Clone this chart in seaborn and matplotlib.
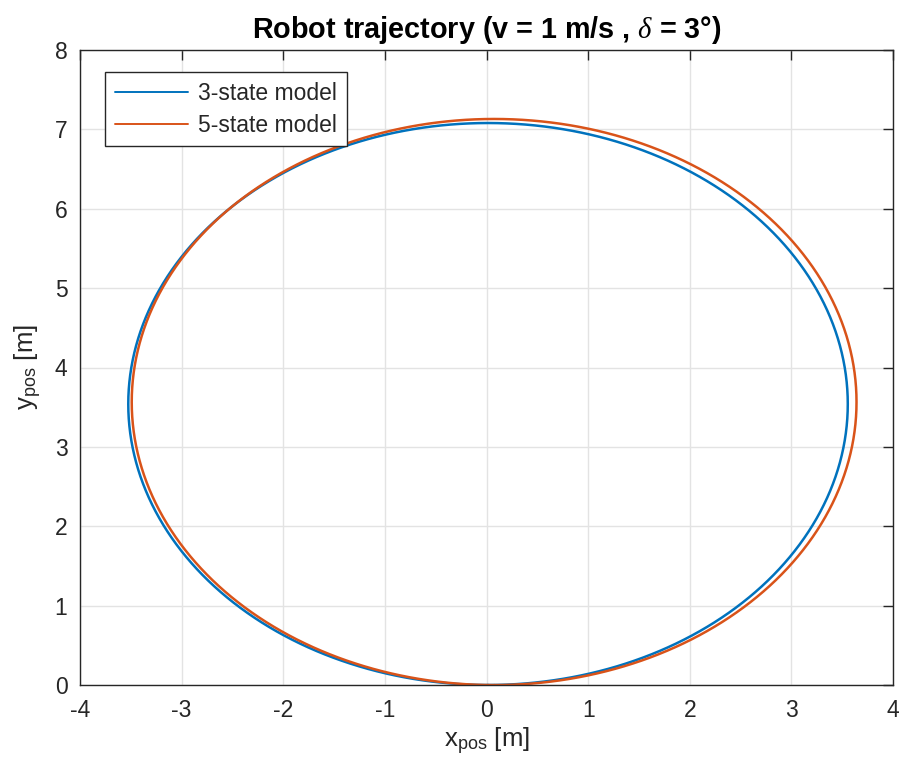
import numpy as np
import pandas as pd
import matplotlib
matplotlib.use("Agg")
import matplotlib.pyplot as plt
import seaborn as sns

# Circular trajectories of the robot for the two vehicle models
models = ["3-state model", "5-state model"]
center_x = [0.015, 0.075]      # m
center_y = [3.540, 3.565]      # m
turn_radius = [3.540, 3.566]   # m
colors = ["#0072BD", "#D95319"]

x_ticks = [-4, -3, -2, -1, 0, 1, 2, 3, 4]
y_ticks = [0, 1, 2, 3, 4, 5, 6, 7, 8]

# Sample each circle along heading angle, starting at the bottom (origin)
heading = np.linspace(0, 2 * np.pi, 721)
frames = []
for name, cx, cy, r in zip(models, center_x, center_y, turn_radius):
    frames.append(pd.DataFrame({
        "x": cx + r * np.sin(heading),
        "y": cy - r * np.cos(heading),
        "model": name,
    }))
df = pd.concat(frames, ignore_index=True)

sns.set_theme(style="white")
plt.rcParams["font.family"] = ["Liberation Sans", "DejaVu Sans"]
plt.rcParams["mathtext.fontset"] = "custom"
plt.rcParams["mathtext.rm"] = "Liberation Sans"
plt.rcParams["mathtext.it"] = "Liberation Serif:italic"

fig = plt.figure(figsize=(9, 7.75), dpi=100)
ax = fig.add_axes([80 / 900, 90 / 775, 813 / 900, 635 / 775])

sns.lineplot(data=df, x="x", y="y", hue="model", palette=colors,
             sort=False, estimator=None, linewidth=1.8, ax=ax, legend=False)

ax.set_xlim(-4, 4)
ax.set_ylim(0, 8)
ax.set_xticks(x_ticks)
ax.set_yticks(y_ticks)
ax.set_xticklabels([str(v) for v in x_ticks])
ax.set_yticklabels([str(v) for v in y_ticks])

ax.grid(True, color="#e3e3e3", linewidth=1.0)
ax.set_axisbelow(True)
for sp in ax.spines.values():
    sp.set_color("#262626")
    sp.set_linewidth(1.0)
    sp.set_visible(True)
ax.tick_params(direction="in", length=7, width=1.0, color="#262626",
               top=True, right=True, labelsize=16.5, labelcolor="#262626")
ax.tick_params(axis="x", pad=10)
ax.tick_params(axis="y", pad=9)

ax.set_xlabel(r"x$_{\mathrm{pos}}$ [m]", fontsize=18.5, color="#262626", labelpad=3)
ax.set_ylabel(r"y$_{\mathrm{pos}}$ [m]", fontsize=18.5, color="#262626", labelpad=8)
ax.set_title(r"Robot trajectory (v = 1 m/s , $\delta$ = 3°)", fontsize=20.7,
             fontweight="bold", color="black", pad=9)

handles = [plt.Line2D([], [], color=c, linewidth=1.4) for c in colors]
leg = ax.legend(handles, models, loc="upper left", bbox_to_anchor=(0.031, 0.965),
                fontsize=16.5, frameon=True, fancybox=False, framealpha=1,
                edgecolor="#262626", handlelength=3.2, handletextpad=0.45,
                borderpad=0.42, labelspacing=0.38, borderaxespad=0)
leg.get_frame().set_linewidth(1.0)

fig.savefig("out.png", dpi=100)
